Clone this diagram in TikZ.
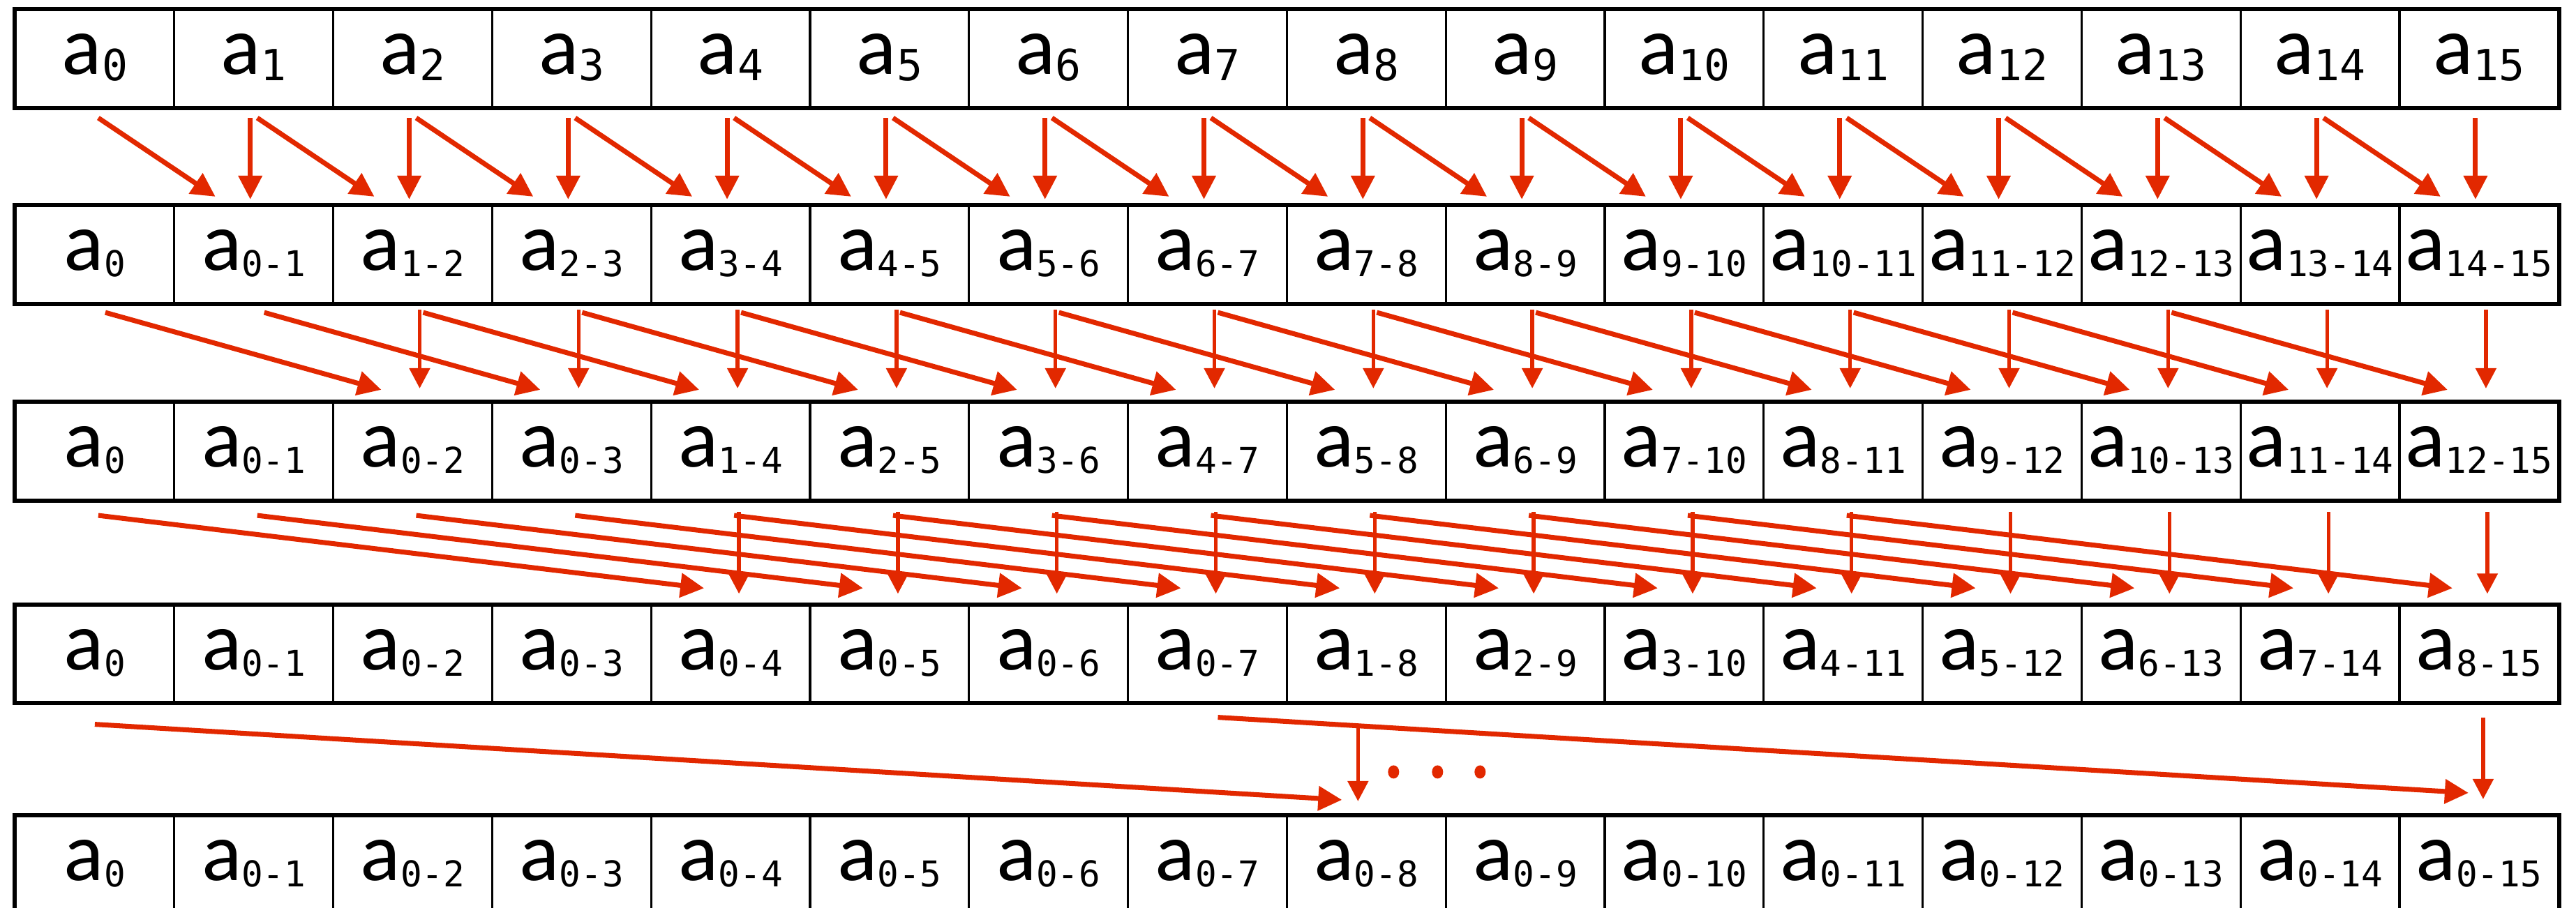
\documentclass[tikz,border=0pt]{standalone}
\usepackage{fontspec}
\setmainfont{Carlito}
\newfontfamily\idxfont{DejaVu Sans Mono}
\usetikzlibrary{arrows.meta,positioning,calc}
\definecolor{scanRed}{HTML}{E22800}

\newcommand{\rng}[2][14.5]{\raisebox{-0.09cm}{\fontsize{#1}{#1}\selectfont\idxfont #2}}

\begin{document}
\begin{tikzpicture}[
    cell/.style={draw,line width=0.9pt,minimum width=2.278cm,minimum height=1.39cm,inner sep=0pt,
      text height=0.55cm,text depth=0.1cm,font=\fontsize{34}{34}\selectfont},
    frame/.style={line width=1.6pt},
    jump/.style={scanRed,line width=2pt,-{Triangle[length=0.34cm,width=0.34cm]}},
    keep/.style={scanRed,line width=1.5pt,-{Triangle[length=0.29cm,width=0.29cm]}},
    bold keep/.style={keep,line width=2pt,-{Triangle[length=0.34cm,width=0.33cm]}}
  ]
  \useasboundingbox (0,0) rectangle (36.92,-13.02);
  \clip (0,0) rectangle (36.92,-13.02);

  % input row
  \foreach \i in {0,...,15}
    \node[cell] (n1-\i) at ({0.22+2.278*(\i+0.5)},-0.84) {a\rng[17.5]{\i}};
  \draw[frame] (n1-0.north west) rectangle (n1-15.south east);

  % partial sums after each step
  \foreach \row/\y/\reach in {2/-3.65/1,3/-6.47/3,4/-9.375/7,5/-12.40/15} {
    \foreach \i in {0,...,15} {
      \pgfmathtruncatemacro\lo{max(0,\i-\reach)}
      \node[cell] (n\row-\i) at ({0.22+2.278*(\i+0.5)},\y)
        {a\rng{\ifnum\i=0 0\else\lo-\i\fi}};
    }
    \draw[frame] (n\row-0.north west) rectangle (n\row-15.south east);
  }

  % step 1
  \foreach \i [evaluate=\i as \j using int(\i-1)] in {1,...,15} {
    \draw[jump] ($(n1-\j.south)+(0.05,-0.14)$) -- ($(n2-\i.north)+(-0.55,0.12)$);
    \draw[bold keep] ($(n1-\i.south)+(-0.05,-0.14)$) -- ($(n2-\i.north)+(-0.05,0.08)$);
  }
  % step 2
  \foreach \i [evaluate=\i as \j using int(\i-2)] in {2,...,15} {
    \draw[jump] ($(n2-\j.south)+(0.15,-0.12)$) -- ($(n3-\i.north)+(-0.45,0.17)$);
    \draw[keep] ($(n2-\i.south)+(0.1,-0.08)$) -- ($(n3-\i.north)+(0.1,0.19)$);
  }
  % step 3
  \foreach \i [evaluate=\i as \j using int(\i-4)] in {4,...,15} {
    \draw[jump] ($(n3-\j.south)+(0.05,-0.21)$) -- ($(n4-\i.north)+(-0.38,0.23)$);
    \draw[keep] ($(n3-\i.south)+(0.12,-0.16)$) -- ($(n4-\i.north)+(0.12,0.15)$);
  }
  % step 4 (only two shown)
  \draw[jump] ($(n4-0.south)+(0,-0.30)$) -- ($(n5-8.north)+(-0.35,0.22)$);
  \draw[jump] ($(n4-7.south)+(0.15,-0.20)$) -- ($(n5-15.north)+(-0.15,0.32)$);
  \draw[keep] ($(n4-8.south)+(-0.12,-0.30)$) -- ($(n5-8.north)+(-0.12,0.20)$);
  \draw[keep] ($(n4-15.south)+(0.06,-0.20)$) -- ($(n5-15.north)+(0.06,0.23)$);
  \foreach \dx in {0.39,1.02,1.63}
    \fill[scanRed] ($(n5-8.north)+(\dx,0.62)$) ellipse (0.08 and 0.095);
\end{tikzpicture}
\end{document}
